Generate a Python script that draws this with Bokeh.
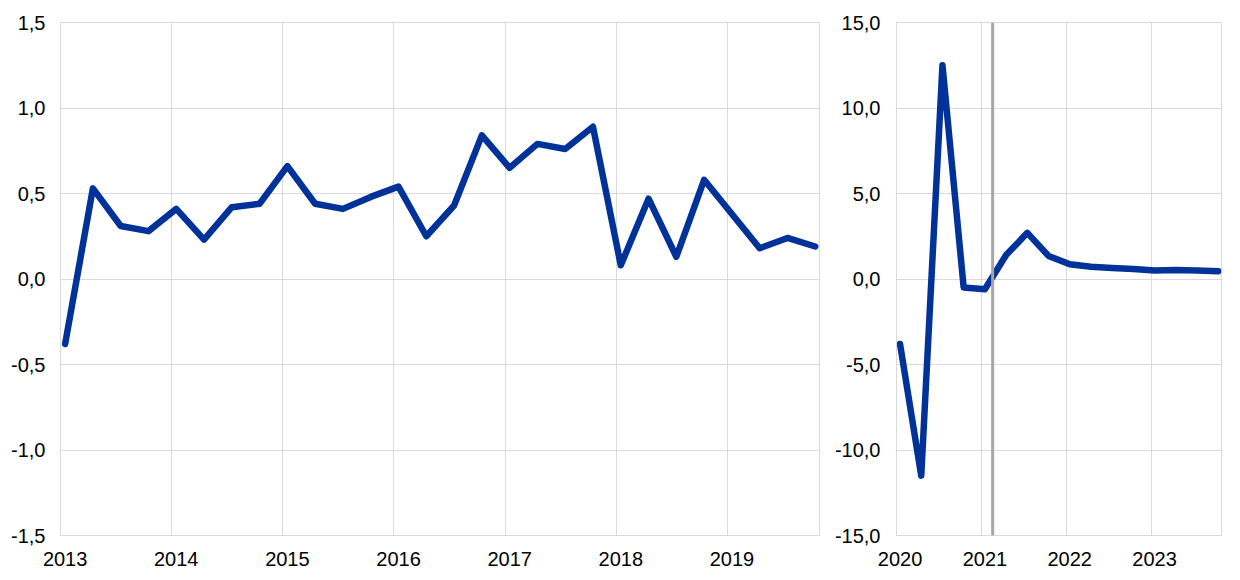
from bokeh.plotting import figure
from bokeh.layouts import row
from bokeh.models import FixedTicker, CustomJSTickFormatter, Span, Range1d
from bokeh.embed import file_html
from bokeh.resources import INLINE

# ---------------- data ----------------
left_years = [2013, 2014, 2015, 2016, 2017, 2018, 2019]
left_quarters = [f"{y}Q{q}" for y in left_years for q in (1, 2, 3, 4)]
left_values = [-0.38, 0.53, 0.31, 0.28,
               0.41, 0.23, 0.42, 0.44,
               0.66, 0.44, 0.41, 0.48,
               0.54, 0.25, 0.43, 0.84,
               0.65, 0.79, 0.76, 0.89,
               0.08, 0.47, 0.13, 0.58,
               0.38, 0.18, 0.24, 0.19]

right_years = [2020, 2021, 2022, 2023]
right_quarters = [f"{y}Q{q}" for y in right_years for q in (1, 2, 3, 4)]
right_values = [-3.8, -11.5, 12.5, -0.5,
                -0.6, 1.4, 2.7, 1.35,
                0.86, 0.72, 0.65, 0.58,
                0.5, 0.52, 0.5, 0.46]

left_yticks = [-1.5, -1.0, -0.5, 0.0, 0.5, 1.0, 1.5]
right_yticks = [-15, -10, -5, 0, 5, 10, 15]
projection_start = 2021.133  # vertical marker in the right panel


def quarter_to_x(label):
    y, q = label.split("Q")
    # point placed at the middle of the quarter's first month
    return int(y) + (int(q) - 1) / 4 + 1 / 24


FONT = "Liberation Sans"
FS = "20px"
GRID = "#d9d9d9"
BLUE = "#003299"

yfmt = CustomJSTickFormatter(code="return tick.toFixed(1).replace('.', ',');")
xfmt = CustomJSTickFormatter(code="return Math.floor(tick).toString();")


def make_panel(years, quarters, values, yticks, width, bl, br, xend, ystandoff):
    p = figure(width=width, height=576, output_backend="svg", toolbar_location=None,
               x_range=Range1d(years[0], xend), y_range=Range1d(yticks[0], yticks[-1]),
               min_border_left=bl, min_border_right=br, min_border_top=22, min_border_bottom=41)
    p.background_fill_color = "white"
    p.border_fill_color = "white"
    p.outline_line_color = GRID
    p.outline_line_width = 1

    xs = [quarter_to_x(q) for q in quarters]
    p.line(xs, values, line_color=BLUE, line_width=6.5, line_join="round", line_cap="round")

    # grid at year boundaries, labels at point positions
    p.xgrid.ticker = FixedTicker(ticks=years)
    p.ygrid.ticker = FixedTicker(ticks=yticks)
    p.xgrid.grid_line_color = GRID
    p.ygrid.grid_line_color = GRID

    p.xaxis.ticker = FixedTicker(ticks=[y + 1 / 24 for y in years])
    p.xaxis.formatter = xfmt
    p.yaxis.ticker = FixedTicker(ticks=yticks)
    p.yaxis.formatter = yfmt
    for ax in (p.xaxis[0], p.yaxis[0]):
        ax.axis_line_color = GRID
        ax.major_tick_line_color = None
        ax.minor_tick_line_color = None
        ax.major_tick_out = 0
        ax.major_tick_in = 0
        ax.minor_tick_out = 0
        ax.major_label_text_font = FONT
        ax.major_label_text_font_size = FS
        ax.major_label_text_color = "black"
    p.xaxis.major_label_standoff = 16
    p.yaxis.major_label_standoff = ystandoff
    return p


p1 = make_panel(left_years, left_quarters, left_values, left_yticks, 820, 60, 1, 2019.83, 15)
p2 = make_panel(right_years, right_quarters, right_values, right_yticks, 403, 76, 2, 2023.83, 16)
p2.add_layout(Span(location=projection_start, dimension="height",
                   line_color="#a6a6a6", line_width=3))

layout = row(p1, p2)
open("out.html", "w").write(file_html(layout, INLINE))
